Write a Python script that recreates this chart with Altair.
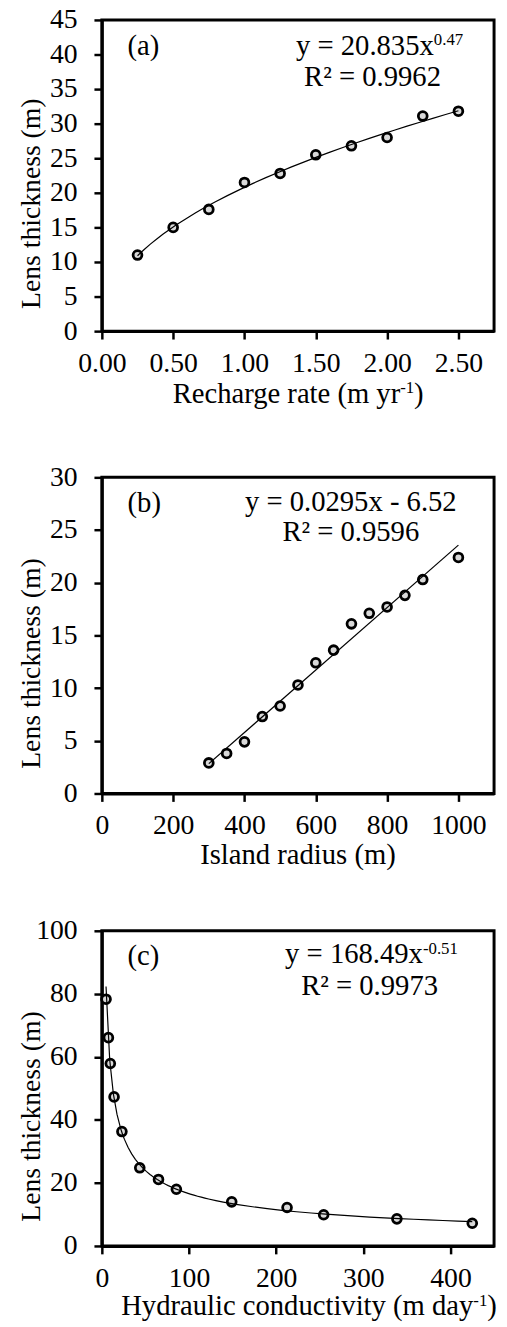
import altair as alt
import pandas as pd

FONT = "Liberation Serif"

# ---------------- data ----------------
recharge_rate = [0.25, 0.50, 0.75, 1.00, 1.25, 1.50, 1.75, 2.00, 2.25, 2.50]
recharge_thick = [11.0, 15.0, 17.6, 21.5, 22.8, 25.5, 26.8, 28.0, 31.1, 31.8]

island_radius = [300, 350, 400, 450, 500, 550, 600, 650, 700, 750, 800, 850, 900, 1000]
radius_thick = [2.9, 3.8, 4.9, 7.3, 8.3, 10.3, 12.4, 13.6, 16.1, 17.1, 17.7, 18.8, 20.3, 22.4]

conductivity = [4.8, 7.5, 9.7, 14, 23, 43.5, 65, 85.5, 149, 212.5, 254.5, 338.5, 425]
cond_thick = [78.3, 66.1, 57.9, 47.3, 36.3, 24.8, 21.1, 18.0, 14.0, 12.2, 9.9, 8.6, 7.2]

ticks_a_x = [0, 0.5, 1.0, 1.5, 2.0, 2.5]
ticks_a_y = [0, 5, 10, 15, 20, 25, 30, 35, 40, 45]
ticks_b_x = [0, 200, 400, 600, 800, 1000]
ticks_b_y = [0, 5, 10, 15, 20, 25, 30]
ticks_c_x = [0, 100, 200, 300, 400]
ticks_c_y = [0, 20, 40, 60, 80, 100]

panel_labels = ["(a)", "(b)", "(c)"]
eq_main = ["y = 20.835x", "y = 0.0295x - 6.52", "y = 168.49x"]
eq_sup = ["0.47", "", "-0.51"]
r2_text = ["R² = 0.9962", "R² = 0.9596", "R² = 0.9973"]
xtitle_main = ["Recharge rate (m yr", "Island radius (m)", "Hydraulic conductivity (m day"]
xtitle_sup = ["-1", "", "-1"]
ytitle = "Lens thickness (m)"

W = 397
H = [315, 320, 319]
ANN = 29


def txt(s, x, y, size=ANN, align="left", baseline="alphabetic", opacity=1):
    return alt.Chart(pd.DataFrame({"t": [s]})).mark_text(
        font=FONT, fontSize=size, align=align, baseline=baseline, color="black",
        opacity=opacity
    ).encode(x=alt.value(x), y=alt.value(y), text="t:N")


def panel(xs, ys, method, xdom, ydom, xticks, yticks, xfmt, h, idx,
          eq_x, eq_center, r2_y, eq_y, sup_raise, xt_x, xt_y, xt_sup_raise, extra_bottom=0):
    df = pd.DataFrame({"x": xs, "y": ys})
    xenc = alt.X("x:Q", scale=alt.Scale(domain=xdom, nice=False, zero=False),
                 axis=alt.Axis(values=xticks, format=xfmt, title=None))
    yenc = alt.Y("y:Q", scale=alt.Scale(domain=ydom, nice=False),
                 axis=alt.Axis(values=yticks, title=ytitle, titleY=h / 2 + 28))
    pts = alt.Chart(df).mark_point(
        shape="circle", filled=True, fill="#d9d9d9", stroke="black",
        strokeWidth=2.8, size=80, opacity=1
    ).encode(x=xenc, y=yenc)
    line = alt.Chart(df).transform_regression("x", "y", method=method).mark_line(
        color="black", strokeWidth=1.2
    ).encode(x=xenc, y=yenc)
    layers = [pts, line]
    layers.append(txt(panel_labels[idx], 26, 35))
    if eq_sup[idx]:
        layers.append(txt(eq_main[idx], eq_x, eq_y, align="right"))
        layers.append(txt(eq_sup[idx], eq_x, eq_y - sup_raise, size=17, align="left"))
    else:
        layers.append(txt(eq_main[idx], eq_center, eq_y, align="center"))
    layers.append(txt(r2_text[idx], eq_center, r2_y, align="center"))
    # x-axis title
    if xtitle_sup[idx]:
        layers.append(txt(xtitle_main[idx], xt_x, h + xt_y, size=29, align="right"))
        layers.append(txt(xtitle_sup[idx], xt_x, h + xt_y - xt_sup_raise, size=17, align="left"))
        layers.append(txt(")", xt_x + 14, h + xt_y, size=29, align="left"))
    else:
        layers.append(txt(xtitle_main[idx], xt_x, h + xt_y, size=29, align="center"))
    if extra_bottom:
        layers.append(txt("g", xt_x, h + xt_y + extra_bottom, size=29, align="right", opacity=0))
    return alt.layer(*layers).properties(width=W, height=h)


pa = panel(recharge_rate, recharge_thick, "pow", [0, 2.75], [0, 45], ticks_a_x, ticks_a_y, ".2f",
           H[0], 0, eq_x=336, eq_center=274, r2_y=67, eq_y=35, sup_raise=10,
           xt_x=302, xt_y=73, xt_sup_raise=10, extra_bottom=7)
pb = panel(island_radius, radius_thick, "linear", [0, 1100], [0, 30], ticks_b_x, ticks_b_y, "d",
           H[1], 1, eq_x=0, eq_center=252, r2_y=64, eq_y=34, sup_raise=0,
           xt_x=W / 2, xt_y=71, xt_sup_raise=0)
pc = panel(conductivity, cond_thick, "pow", [0, 450], [0, 100], ticks_c_x, ticks_c_y, "d",
           H[2], 2, eq_x=325, eq_center=271, r2_y=65, eq_y=33, sup_raise=10,
           xt_x=376, xt_y=70, xt_sup_raise=9)

chart = alt.vconcat(pa, pb, pc, spacing=44).properties(
    padding={"left": 8, "top": -12, "right": 0, "bottom": 0}
).configure_view(
    stroke="black", strokeWidth=3
).configure_axis(
    labelFont=FONT, labelFontSize=28, labelColor="black", labelFlush=False, labelOverlap=False,
    titleFont=FONT, titleFontSize=28, titleFontWeight="normal", titleColor="black",
    domainColor="black", domainWidth=3, tickColor="black", tickWidth=2.5, tickSize=8,
    grid=False
).configure_axisX(
    labelPadding=11
).configure_axisY(
    labelPadding=17, titleX=-63, titleBaseline="alphabetic", titleAngle=270, titleAlign="center"
)

chart.save("out.html", embed_options={"renderer": "svg", "actions": False})
